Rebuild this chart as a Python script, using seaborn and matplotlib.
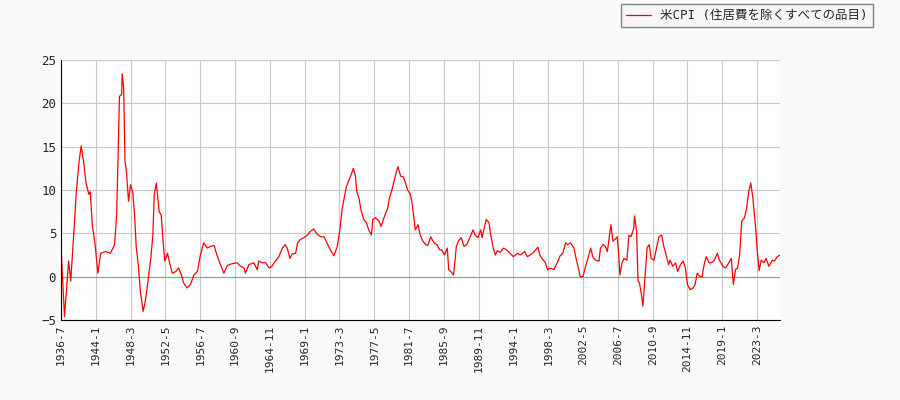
import matplotlib
matplotlib.use("Agg")
import matplotlib.pyplot as plt
import seaborn as sns
import pandas as pd
from matplotlib.ticker import MultipleLocator

tick_labels = ["1936-7","1944-1","1948-3","1952-5","1956-7","1960-9","1964-11","1969-1",
               "1973-3","1977-5","1981-7","1985-9","1989-11","1994-1","1998-3","2002-5",
               "2006-7","2010-9","2014-11","2019-1","2023-3"]

# (month index, value) pairs
points = [
    (0,3.5),(5,-4.6),(11,1.8),(14,-0.5),(18,4.5),(22,9.8),(26,13.3),(29,15.1),(33,12.9),(36,10.8),
    (40,9.5),(42,9.8),(45,6.0),(49,3.7),(53,0.4),(57,2.7),(64,2.9),(71,2.7),(77,3.7),(80,7.2),
    (82,14.1),(84,20.8),(87,21.0),(88,23.4),(90,21.8),(92,13.3),(94,12.1),(96,9.8),(97,8.7),(100,10.6),
    (103,9.8),(106,6.8),(108,3.5),(111,1.4),(114,-1.7),(118,-4.0),(121,-2.9),(125,-0.5),(129,2.1),(132,4.8),
    (134,9.5),(137,10.8),(141,7.5),(144,7.1),(146,4.8),(149,1.8),(153,2.7),(156,1.6),(160,0.4),(165,0.6),
    (169,1.0),(173,0.2),(176,-0.7),(181,-1.3),(186,-0.9),(191,0.2),(196,0.6),(200,2.4),(205,3.9),(210,3.3),
    (215,3.5),(220,3.6),(224,2.5),(229,1.4),(234,0.4),(239,1.3),(246,1.5),(253,1.6),
    (258,1.2),(263,1.0),(265,0.4),(270,1.4),(277,1.6),(282,0.8),(284,1.8),(289,1.6),(294,1.6),(299,1.0),
    (303,1.2),(308,1.8),(313,2.3),(318,3.3),(322,3.7),(325,3.3),(329,2.1),(332,2.6),(337,2.7),(340,3.9),
    (344,4.3),(349,4.5),(354,4.8),(358,5.2),(363,5.5),(368,4.9),(373,4.6),(378,4.6),(382,3.9),(387,3.1),
    (392,2.4),(397,3.5),(401,5.6),(404,7.9),(407,9.1),(410,10.4),(413,11.0),(417,11.8),(420,12.5),(423,11.6),
    (425,9.8),(428,9.1),(431,7.7),(435,6.6),(439,6.2),(442,5.4),(446,4.8),(448,6.6),(452,6.8),(457,6.4),
    (460,5.8),(464,6.8),(469,7.8),(472,9.1),(476,10.2),(479,11.2),(482,12.1),(484,12.7),(488,11.6),(492,11.5),
    (495,10.8),(498,10.0),(502,9.5),(504,8.7),(507,6.8),(509,5.4),(513,6.0),(516,4.8),(520,4.1),(524,3.7),
    (527,3.6),(530,4.3),
    (531,4.6),(536,3.9),(540,3.7),(544,3.1),(547,3.1),(551,2.5),(555,3.3),(557,0.8),(560,0.6),(564,0.2),
    (568,3.5),(571,4.1),(575,4.5),(579,3.5),(583,3.7),(588,4.6),(592,5.4),(595,4.8),(599,4.5),(603,5.4),
    (605,4.5),(608,5.6),(611,6.6),(615,6.2),(617,5.0),(621,3.3),(624,2.5),(627,3.0),(631,2.8),(636,3.3),
    (640,3.1),(645,2.7),(650,2.3),(656,2.7),(660,2.5),(666,2.9),(670,2.3),(674,2.5),(679,2.8),(685,3.4),
    (688,2.5),(691,2.1),(696,1.6),(699,0.8),(703,1.0),(708,0.8),(713,1.6),(717,2.4),(721,2.7),(725,3.9),
    (728,3.7),(732,3.9),(737,3.3),(740,2.1),(744,0.8),(746,0.0),(750,0.0),(753,1.0),(757,2.1),(761,3.3),
    (764,2.3),(768,1.9),(773,1.8),
    (775,3.3),(779,3.7),(782,3.5),(785,2.9),(788,4.8),(790,6.0),(793,4.1),(796,4.3),(799,4.6),(801,2.9),
    (803,0.2),(806,1.6),(809,2.1),(813,1.9),(816,4.8),(819,4.6),(823,5.6),(824,7.0),(827,5.2),(829,-0.5),
    (831,-0.7),(834,-2.1),(836,-3.4),(838,-1.3),(840,1.0),(842,3.3),(845,3.7),(848,2.1),(852,1.9),(855,3.1),
    (859,4.6),(863,4.8),(866,3.5),(870,2.3),(873,1.4),(875,1.9),(879,1.2),(883,1.6),(886,0.6),(890,1.4),
    (894,1.8),(897,1.0),(900,-0.9),(904,-1.5),(908,-1.3),(911,-0.9),(914,0.4),(918,0.0),(921,0.0),(924,1.4),
    (927,2.3),(931,1.6),(934,1.6),(938,1.8),(943,2.7),(946,1.9),(951,1.2),(955,1.0),(958,1.4),(963,2.1),
    (965,0.0),(966,-0.9),(969,0.8),(972,1.0),(975,2.5),(978,6.4),(982,6.8),(985,7.9),(988,9.8),(991,10.8),
    (994,9.1),(998,5.6),(1000,3.3),(1003,0.7),(1006,1.9),(1010,1.6),(1013,2.1),(1017,1.2),(1022,1.9),(1025,1.8),
    (1029,2.3),(1033,2.5),
]
idx = [p[0] for p in points]
val = [p[1] for p in points]
df = pd.DataFrame({"i": idx, "v": val})

sns.set_style("white")
plt.rcParams["font.family"] = ["DejaVu Sans Mono", "Noto Sans CJK JP"]
fig = plt.figure(figsize=(9, 4), dpi=100, facecolor="#fafafa")
ax = fig.add_axes([61/900, 80/400, 719/900, 260/400])
ax.set_facecolor("white")
sns.lineplot(data=df, x="i", y="v", ax=ax, color="red", linewidth=0.9, label="米CPI (住居費を除くすべての品目)")
ax.axhline(0, color="#33dd33", linewidth=0.8, zorder=1)
ax.set_xlim(0, 1033)
ax.set_ylim(-5, 25)
ax.set_xticks([50*k for k in range(len(tick_labels))])
ax.set_xticklabels(tick_labels, rotation=90, fontsize=8)
ax.set_yticks([-5, 0, 5, 10, 15, 20, 25])
ax.yaxis.set_minor_locator(MultipleLocator(1))
ax.tick_params(axis="y", which="major", length=5, labelsize=9, direction="in")
ax.tick_params(axis="y", which="minor", length=3, direction="in")
ax.tick_params(axis="x", length=5, direction="in")
ax.grid(True, color="#c8c8c8", linewidth=0.8)
ax.set_axisbelow(True)
ax.set_xlabel("")
ax.set_ylabel("")
for s in ["top", "right"]:
    ax.spines[s].set_visible(False)
for s in ["left", "bottom"]:
    ax.spines[s].set_color("black")
leg = ax.legend(loc="upper right", bbox_to_anchor=(873/900, 1-4/400), bbox_transform=fig.transFigure,
                fontsize=9, frameon=True, fancybox=False, borderaxespad=0)
leg.get_frame().set_edgecolor("#666666")
leg.get_frame().set_facecolor("#f7f7f7")
fig.savefig("out.png", dpi=100, facecolor=fig.get_facecolor())
